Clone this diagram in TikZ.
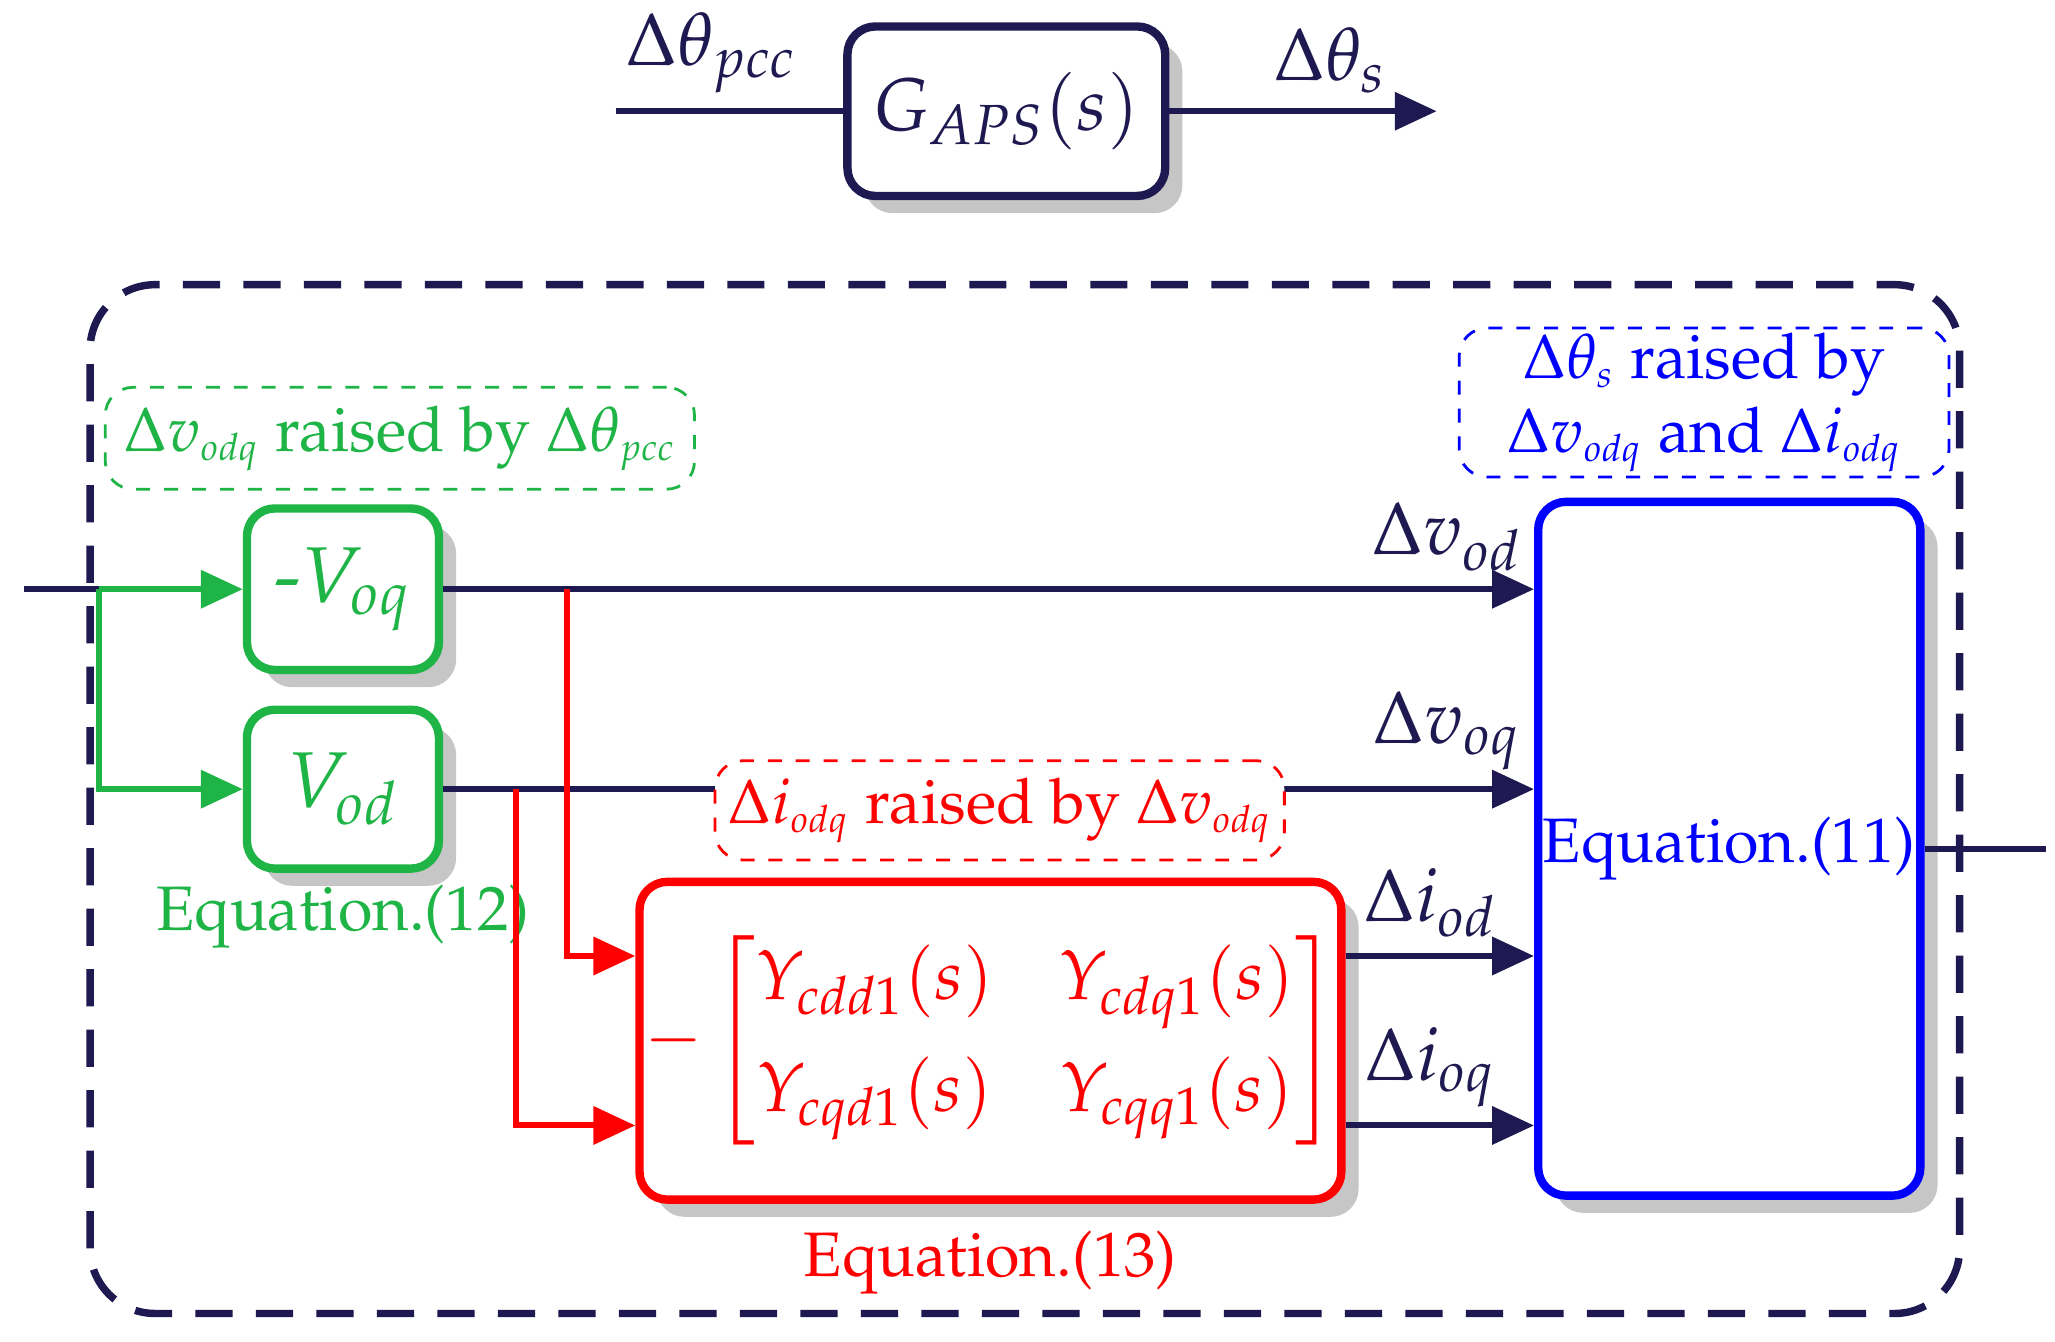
\documentclass[tikz,border=0pt]{standalone}
\usepackage[T1]{fontenc}
\usepackage{amsmath}
\usepackage{mathpazo}
\usetikzlibrary{positioning,shadows,arrows.meta,calc}
\definecolor{navy}{RGB}{30,25,80}
\definecolor{grn}{RGB}{30,180,70}
\tikzset{
  blk/.style={draw=#1,text=#1,rounded corners=6pt,line width=1.8pt,fill=white,
    drop shadow={shadow xshift=.13cm,shadow yshift=-.13cm,fill=gray!45,opacity=1}},
  tag/.style={draw=#1,text=#1,dashed,rounded corners=6pt,line width=.6pt,fill=white},
  sig/.style={line width=1.3pt,-{Triangle[length=9pt,width=8pt]}},
  wire/.style={line width=1.3pt}
}
\begin{document}
\begin{tikzpicture}[font=\fontsize{13.5}{16}\selectfont]
\useasboundingbox (0,0) rectangle (15.52,10.13);
% top block
\node[blk=navy,minimum width=2.4cm,minimum height=1.28cm,inner sep=1pt,font=\fontsize{16}{20}\selectfont] (gaps) at (7.6,9.29) {$G_{APS}(s)$};
\coordinate (tin) at (4.65,9.29);
\coordinate (tout) at (10.85,9.29);
\draw[wire,navy] (tin) -- node[above,pos=.42,font=\fontsize{16}{20}\selectfont] {$\Delta\theta_{pcc}$} (gaps);
\draw[sig,navy] (gaps) -- node[above,pos=.6,font=\fontsize{16}{20}\selectfont] {$\Delta\theta_{s}$} (tout);
% outer frame
\draw[navy,line width=1.6pt,dash pattern=on 8pt off 5pt,rounded corners=14pt] (0.68,0.21) rectangle (14.8,7.98);
% blocks
\node[blk=grn,minimum width=1.45cm,minimum height=1.22cm,inner sep=1pt,font=\fontsize{17}{20}\selectfont] (voq) at (2.59,5.68) {$\text{-}V_{oq}$};
\node[blk=grn,minimum width=1.45cm,minimum height=1.2cm,inner sep=1pt,font=\fontsize{17}{20}\selectfont] (vod) at (2.59,4.17) {$V_{od}$};
\node[grn,below=0.05cm of vod,inner sep=1pt] (eq12) {Equation.(12)};
\node[blk=red,minimum width=5.22cm,minimum height=2.4cm,inner sep=1pt,font=\fontsize{15}{18}\selectfont] (ybox) at (7.48,2.27)
  {$-\begin{bmatrix} Y_{cdd1}(s) & \;Y_{cdq1}(s)\\[6pt] Y_{cqd1}(s) & \;Y_{cqq1}(s)\end{bmatrix}$};
\node[red,below=0.08cm of ybox] (eq13) {Equation.(13)};
\node[blk=blue,minimum width=2.88cm,minimum height=5.24cm,inner sep=1pt] (eq11) at (13.06,3.72) {Equation.(11)};
% input
\coordinate (in) at (0.18,5.68);
\coordinate (br) at (0.75,5.68);
\draw[wire,navy] (in) -- (br);
\draw[sig,grn] (br) -- (voq);
\draw[sig,grn] (br) |- (vod);
% outputs to equation 11
\draw[sig,navy] (voq.east) -- node[above,pos=.92,font=\fontsize{16}{20}\selectfont] {$\Delta v_{od}$} (eq11.west|-voq.east);
\draw[sig,navy] (vod.east) -- node[above,pos=.92,font=\fontsize{16}{20}\selectfont] {$\Delta v_{oq}$} (eq11.west|-vod.east);
\coordinate (yin1) at ($(ybox.west)+(0,.64)$);
\coordinate (yin2) at ($(ybox.west)+(0,-.64)$);
\coordinate (yout1) at ($(ybox.east)+(0,.64)$);
\coordinate (yout2) at ($(ybox.east)+(0,-.64)$);
\draw[sig,red] (4.28,5.68) |- (yin1);
\draw[sig,red] (3.9,4.17) |- (yin2);
\draw[sig,navy] (yout1) -- node[above,pos=.45,font=\fontsize{16}{20}\selectfont] {$\Delta i_{od}$} (eq11.west|-yout1);
\draw[sig,navy] (yout2) -- node[above,pos=.45,font=\fontsize{16}{20}\selectfont] {$\Delta i_{oq}$} (eq11.west|-yout2);
\coordinate (out) at (15.45,3.72);
\draw[wire,navy] (eq11) -- (out);
% labels
\node[tag=grn,minimum width=4.45cm,minimum height=.77cm,inner sep=1pt] (gtag) at (3.02,6.82) {$\Delta v_{\scriptscriptstyle odq}$ raised by $\Delta\theta_{\scriptscriptstyle pcc}$};
\node[tag=red,minimum width=4.3cm,minimum height=.75cm,inner sep=1pt] (rtag) at (7.55,4.01) {$\Delta i_{\scriptscriptstyle odq}$ raised by $\Delta v_{\scriptscriptstyle odq}$};
\node[tag=blue,minimum width=3.7cm,minimum height=1.12cm,align=center,inner sep=1pt] (btag) at (12.87,7.09)
  {$\Delta\theta_{\scriptscriptstyle s}$ raised by\\ $\Delta v_{\scriptscriptstyle odq}$ and $\Delta i_{\scriptscriptstyle odq}$};
\end{tikzpicture}
\end{document}
